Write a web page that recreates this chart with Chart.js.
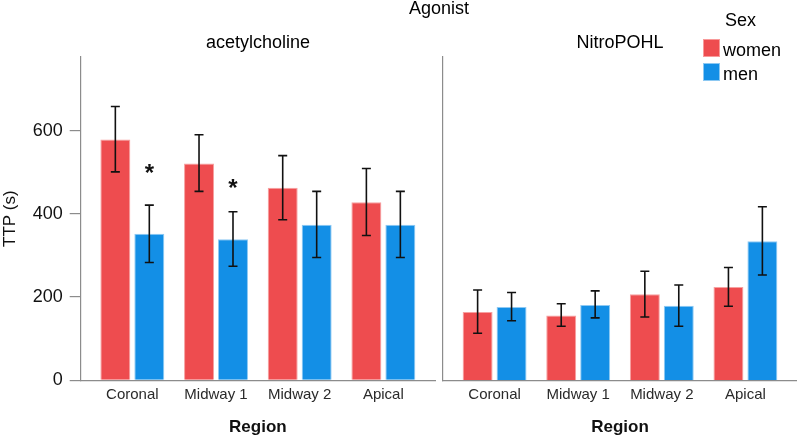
<!DOCTYPE html>
<html>
<head>
<meta charset="utf-8">
<script src="https://cdn.jsdelivr.net/npm/chart.js@4.4.1/dist/chart.umd.min.js"></script>
<style>
  body { margin: 0; background: #fff; font-family: "Liberation Sans", Arial, sans-serif; }
  #wrap { position: relative; width: 797px; height: 440px; overflow: hidden; }
  .box { position: absolute; top: 0; height: 440px; }
  .txt { position: absolute; font-size: 18px; line-height: 18px; color: #000; white-space: nowrap; }
  .sq { position: absolute; width: 15px; height: 16px; }
</style>
</head>
<body>
<div id="wrap">
  <div class="box" style="left:0;width:440px"><canvas id="ach"></canvas></div>
  <div class="box" style="left:437px;width:360px"><canvas id="nit"></canvas></div>

  <div class="txt" style="left:439px;top:-1px;transform:translateX(-50%)">Agonist</div>
  <div class="txt" style="left:258px;top:33px;transform:translateX(-50%)">acetylcholine</div>
  <div class="txt" style="left:620px;top:33px;transform:translateX(-50%)">NitroPOHL</div>

  <div class="txt" style="left:725px;top:11px">Sex</div>
  <div class="sq" style="left:703px;top:39px;background:#ee4c4f;border:1px solid #f89a9a"></div>
  <div class="txt" style="left:723px;top:41px">women</div>
  <div class="sq" style="left:703px;top:63px;background:#138fe6;border:1px solid #8cc8f2"></div>
  <div class="txt" style="left:723px;top:65px">men</div>
</div>

<script>
// data
const regions = ["Coronal", "Midway 1", "Midway 2", "Apical"];

const achWomen   = [579, 521, 463, 428];
const achWomenLo = [501, 454, 386, 348];
const achWomenHi = [658, 590, 540, 509];
const achMen     = [352, 339, 374, 374];
const achMenLo   = [283, 274, 295, 295];
const achMenHi   = [421, 405, 454, 454];
const achStars   = [511, 475, null, null];   // '*' above the men bar

const nitWomen   = [164, 156, 207, 224];
const nitWomenLo = [113, 130, 152, 178];
const nitWomenHi = [217, 184, 262, 271];
const nitMen     = [176, 181, 179, 334];
const nitMenLo   = [143, 150, 130, 253];
const nitMenHi   = [211, 215, 229, 417];

const yTicks = [0, 200, 400, 600];
const yMax = 777;

const RED = '#ee4c4f', BLUE = '#138fe6', AXIS = '#8c8c8c';
Chart.defaults.font.family = '"Liberation Sans", Arial, sans-serif';

// error bars + significance stars
const extras = {
  id: 'extras',
  afterDatasetsDraw(chart) {
    const ctx = chart.ctx, y = chart.scales.y;
    ctx.save();
    ctx.strokeStyle = '#111';
    ctx.lineWidth = 1.6;
    chart.data.datasets.forEach((ds, i) => {
      chart.getDatasetMeta(i).data.forEach((bar, j) => {
        const t = y.getPixelForValue(ds.hi[j]), b = y.getPixelForValue(ds.lo[j]);
        ctx.beginPath();
        ctx.moveTo(bar.x, t); ctx.lineTo(bar.x, b);
        ctx.moveTo(bar.x - 4.5, t); ctx.lineTo(bar.x + 4.5, t);
        ctx.moveTo(bar.x - 4.5, b); ctx.lineTo(bar.x + 4.5, b);
        ctx.stroke();
      });
      if (ds.stars) {
        ctx.fillStyle = '#111';
        ctx.font = 'bold 24px "Liberation Sans", Arial';
        ctx.textAlign = 'center';
        ctx.textBaseline = 'alphabetic';
        ds.stars.forEach((v, j) => {
          if (v == null) return;
          const bar = chart.getDatasetMeta(i).data[j];
          ctx.fillText('*', bar.x, y.getPixelForValue(v) + 13);
        });
      }
    });
    ctx.restore();
  }
};

function pts(vals) {
  return vals.map((v, i) => ({ x: i, y: v }));
}

function panel(id, women, wLo, wHi, men, mLo, mHi, stars, first) {
  return new Chart(document.getElementById(id), {
    type: 'bar',
    data: {
      datasets: [
        { label: 'women', data: pts(women), lo: wLo, hi: wHi,
          backgroundColor: RED, borderColor: '#f7a0a0', borderWidth: 1 },
        { label: 'men', data: pts(men), lo: mLo, hi: mHi, stars: stars,
          backgroundColor: BLUE, borderColor: '#8ec9f3', borderWidth: 1 }
      ]
    },
    options: {
      responsive: true,
      maintainAspectRatio: false,
      animation: false,
      categoryPercentage: 0.812,
      barPercentage: 0.882,
      layout: { padding: { top: 57, right: first ? 5 : 0, bottom: 0, left: 0 } },
      plugins: { legend: { display: false }, tooltip: { enabled: false } },
      scales: {
        x: {
          type: 'linear',
          offset: false,
          min: -0.617,
          max: 3.617,
          afterBuildTicks: s => { s.ticks = regions.map((r, i) => ({ value: i })); },
          afterFit: s => { s.height = 59.7; },
          border: { display: true, color: AXIS, width: 1.2 },
          grid: { display: false, drawTicks: false },
          ticks: { callback: v => regions[v], color: '#2a2a2a', padding: 6,
                   maxRotation: 0, autoSkip: false, font: { size: 15 } },
          title: { display: true, text: 'Region', color: '#111',
                   font: { size: 17, weight: 'bold' }, padding: { top: 0, bottom: 2 } }
        },
        y: {
          min: 0,
          max: yMax,
          afterBuildTicks: s => { s.ticks = yTicks.map(v => ({ value: v })); },
          afterFit: s => { s.width = first ? 80.7 : 6; },
          border: { display: true, color: AXIS, width: 1.2 },
          grid: { display: first, drawOnChartArea: false, tickLength: 11, color: AXIS, lineWidth: 1.2 },
          ticks: { display: first, color: '#111', padding: 7, font: { size: 18 } },
          title: { display: first, text: 'TTP (s)', color: '#111',
                   font: { size: 17 }, padding: 0 }
        }
      }
    },
    plugins: [extras]
  });
}

panel('ach', achWomen, achWomenLo, achWomenHi, achMen, achMenLo, achMenHi, achStars, true);
panel('nit', nitWomen, nitWomenLo, nitWomenHi, nitMen, nitMenLo, nitMenHi, null, false);
</script>
</body>
</html>
